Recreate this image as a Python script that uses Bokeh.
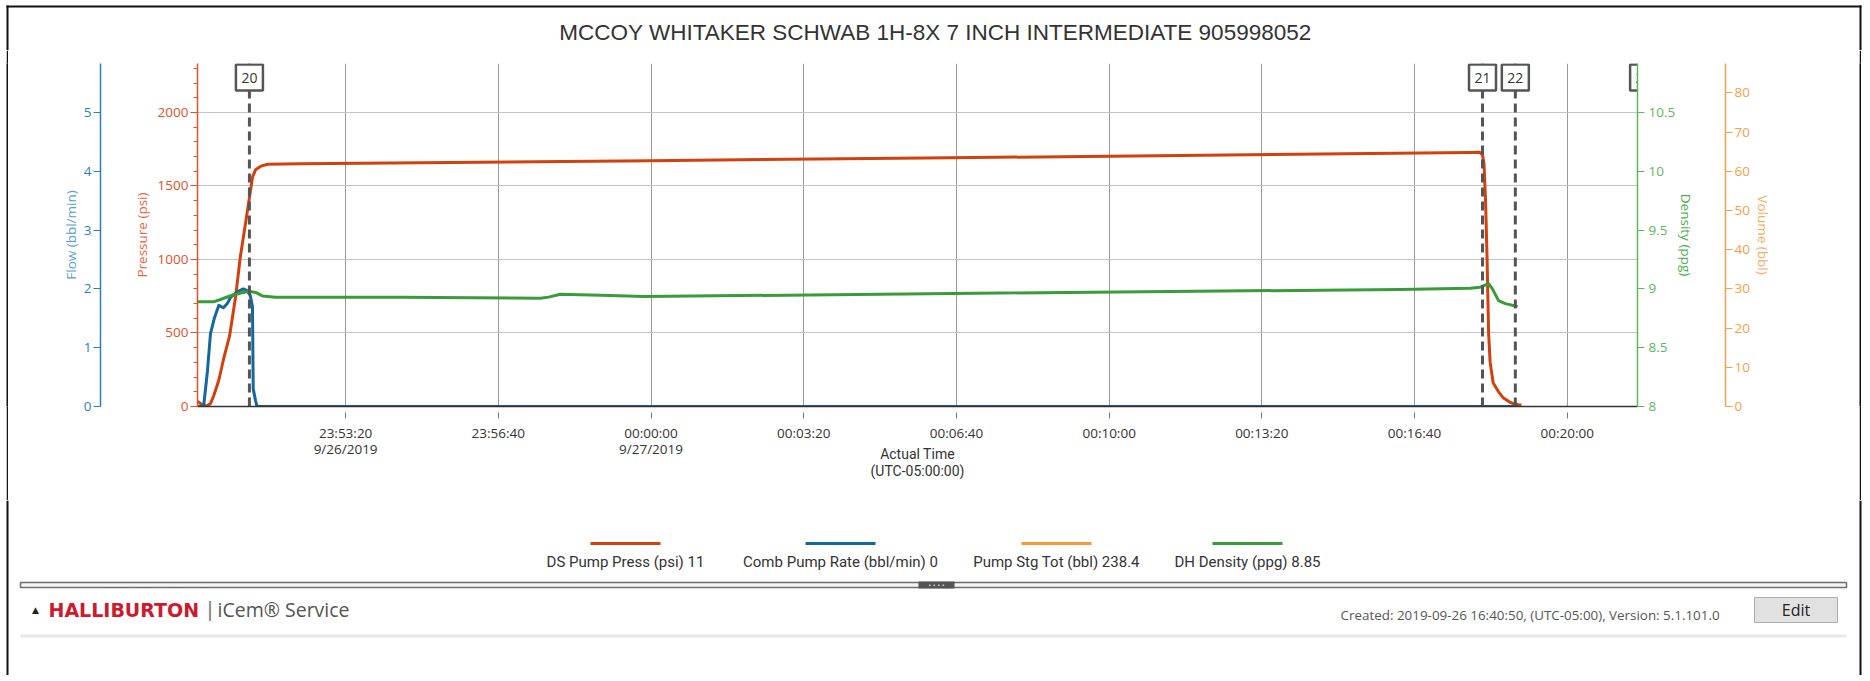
from bokeh.plotting import figure
from bokeh.layouts import column, row
from bokeh.models import (Range1d, LinearAxis, FixedTicker, SingleIntervalTicker,
                          NumeralTickFormatter, ColumnDataSource, Spacer)
from bokeh.core.properties import value
from bokeh.embed import file_html
from bokeh.resources import INLINE

# ---------------- data ----------------
TITLE = "MCCOY WHITAKER SCHWAB 1H-8X 7 INCH INTERMEDIATE 905998052"

press_time = ["23:50:06", "23:50:10", "23:50:14", "23:50:19", "23:50:23", "23:50:27", "23:50:34",
              "23:50:40", "23:50:48", "23:50:56", "23:51:02", "23:51:09", "23:51:14", "23:51:18",
              "23:51:22", "23:51:29", "23:51:38", "23:52:21", "23:59:59", "00:06:32", "00:13:05",
              "00:17:53", "00:18:05", "00:18:09", "00:18:11", "00:18:13", "00:18:15", "00:18:17",
              "00:18:19", "00:18:23", "00:18:30", "00:18:36", "00:18:43", "00:18:49", "00:18:56",
              "00:19:00"]
press_psi = [35, 20, 5, 5, 20, 70, 180, 320, 480, 750, 1014, 1250, 1420, 1560, 1610, 1635, 1648,
             1652, 1672, 1692, 1712, 1728, 1730, 1712, 1650, 1400, 1000, 500, 300, 160, 100, 60,
             35, 20, 12, 11]

flow_time = ["23:50:06", "23:50:14", "23:50:19", "23:50:23", "23:50:28", "23:50:34", "23:50:40",
             "23:50:45", "23:50:49", "23:50:58", "23:51:06", "23:51:11", "23:51:15", "23:51:18",
             "23:51:19", "23:51:22", "23:51:24", "00:18:56"]
flow_rate = [0, 0, 0.6, 1.24, 1.5, 1.72, 1.68, 1.75, 1.85, 1.95, 2.0, 1.97, 1.89, 1.70, 0.3, 0.1,
             0, 0]

dens_time = ["23:50:06", "23:50:27", "23:50:36", "23:50:53", "23:51:13", "23:51:22", "23:51:31",
             "23:51:48", "23:54:32", "23:57:35", "23:57:46", "23:58:01", "23:58:54", "23:59:51",
             "00:07:37", "00:16:21", "00:17:53", "00:18:06", "00:18:17", "00:18:22", "00:18:30",
             "00:18:39", "00:18:55"]
dens_ppg = [8.89, 8.89, 8.91, 8.95, 8.98, 8.97, 8.94, 8.93, 8.93, 8.92, 8.93, 8.955, 8.945, 8.935,
            8.965, 8.995, 9.005, 9.015, 9.045, 9.0, 8.90, 8.875, 8.85]

event_labels = ["20", "21", "22", "23"]
event_times = ["23:51:14", "00:18:09", "00:18:52", "00:21:40"]

tick_times = ["23:53:20", "23:56:40", "00:00:00", "00:03:20", "00:06:40", "00:10:00",
              "00:13:20", "00:16:40", "00:20:00"]
tick_labels = ["23:53:20\n9/26/2019", "23:56:40", "00:00:00\n9/27/2019", "00:03:20", "00:06:40",
               "00:10:00", "00:13:20", "00:16:40", "00:20:00"]

legend_names = ["DS Pump Press (psi)", "Comb Pump Rate (bbl/min)", "Pump Stg Tot (bbl)",
                "DH Density (ppg)"]
legend_values = ["11", "0", "238.4", "8.85"]

X_START, X_END = "23:50:06", "00:21:32"
P_MAX, F_MAX, D_MIN, D_MAX, V_MAX = 2333.3, 5.8333, 8.0, 10.9167, 87.5


def secs(t):
    h, m, s = map(int, t.split(":"))
    v = h * 3600 + m * 60 + s
    return v + 86400 if h < 12 else v


# ---------------- colours / layout ----------------
C_PRESS, C_PRESS_AX, C_PRESS_LAB = "#d2400e", "#e0522a", "#e8663f"
C_FLOW, C_FLOW_AX, C_FLOW_LAB = "#15679f", "#2f7fb5", "#5aa0d0"
C_DENS, C_DENS_AX, C_DENS_LAB = "#3a9b3a", "#5cb85c", "#4cae4c"
C_VOL, C_VOL_AX, C_VOL_LAB = "#f79a3a", "#f5a04a", "#f7ac60"
BORDER = "#111111"

TOTAL_W = 1862
HEAD_H = 50
MID_W = TOTAL_W - 6 - 2 - 2 - 1
CHART_H, FOOT_H = 450, 175
FL, FR, FT, FB = 189, 1629, 13, 356          # frame edges inside the chart figure
FRAME_H = FB - FT
TICK_FONT = "Open Sans"


def canvas_fig(w, h, fill="white"):
    f = figure(width=w, height=h, output_backend="svg", toolbar_location=None,
               x_range=Range1d(0, w), y_range=Range1d(h, 0), min_border=0,
               x_axis_location=None, y_axis_location=None, outline_line_color=None,
               background_fill_color=fill, border_fill_color=fill)
    f.grid.visible = False
    return f


# ---------------- header (page frame + title) ----------------
head = canvas_fig(TOTAL_W, HEAD_H)
head.quad(left=[6, 6, 1859], right=[1861, 8, 1861], top=[5, 5, 5], bottom=[7, HEAD_H, HEAD_H],
          fill_color=BORDER, line_color=None)
head.text(x=[935], y=[31.5], text=[TITLE], text_align="center", text_baseline="middle",
          text_font=value("Liberation Sans"), text_font_size="22.5px", text_color="#333333")

bar_left = canvas_fig(2, CHART_H, fill=BORDER)
bar_right = canvas_fig(2, CHART_H, fill=BORDER)

# ---------------- chart ----------------
p = figure(width=MID_W, height=CHART_H, output_backend="svg", toolbar_location=None,
           x_range=Range1d(secs(X_START), secs(X_END)), y_range=Range1d(0, P_MAX),
           min_border_left=FL, min_border_right=MID_W - FR, min_border_top=FT,
           min_border_bottom=CHART_H - FB, background_fill_color="white",
           border_fill_color="white", outline_line_color=None)

p.extra_y_ranges = {"flow": Range1d(0, F_MAX), "density": Range1d(D_MIN, D_MAX),
                    "volume": Range1d(0, V_MAX)}

xa = p.xaxis[0]
xa.ticker = FixedTicker(ticks=[secs(t) for t in tick_times], minor_ticks=[])
xa.major_label_overrides = {float(secs(t)): lab for t, lab in zip(tick_times, tick_labels)}
xa.axis_line_color = "#333333"
xa.axis_line_width = 1.5
xa.major_tick_line_color = "#777777"
xa.major_tick_in = -6
xa.major_tick_out = 12
xa.minor_tick_line_color = None
xa.major_label_standoff = 5
xa.major_label_text_font = TICK_FONT
xa.major_label_text_font_size = "13.5px"
xa.major_label_text_line_height = 0.93
xa.major_label_text_color = "#333333"
xa.axis_label = "Actual Time\n(UTC-05:00:00)"
xa.axis_label_text_font = "Roboto"
xa.axis_label_text_font_size = "14px"
xa.axis_label_text_line_height = 1.04
xa.axis_label_text_font_style = "normal"
xa.axis_label_text_color = "#333333"
xa.axis_label_standoff = -15


def style_axis(ax, color, lab_color, label_standoff, minor=False):
    ax.axis_line_color = color
    ax.axis_line_width = 1.5
    ax.major_tick_line_color = color
    ax.major_tick_in = 0
    ax.major_tick_out = 7
    if minor:
        ax.minor_tick_line_color = color
        ax.minor_tick_in = 0
        ax.minor_tick_out = 4
    else:
        ax.minor_tick_line_color = None
    ax.major_label_standoff = 2
    ax.major_label_text_font = TICK_FONT
    ax.major_label_text_font_size = "13.5px"
    ax.major_label_text_color = color
    ax.axis_label_text_font = TICK_FONT
    ax.axis_label_text_font_size = "13.5px"
    ax.axis_label_text_font_style = "normal"
    ax.axis_label_text_color = lab_color
    ax.axis_label_standoff = label_standoff


def gap_axis(range_name, tick_value, gap):
    # blank axis that only leaves the white gap seen between the stacked left axes
    ax = LinearAxis(y_range_name=range_name, ticker=FixedTicker(ticks=[tick_value]),
                    axis_label=None)
    ax.axis_line_color = None
    ax.major_tick_line_color = "white"
    ax.minor_tick_line_color = None
    ax.major_tick_in = 0
    ax.major_tick_out = gap
    ax.major_label_standoff = 0
    ax.major_label_text_color = None
    ax.major_label_text_font_size = "1px"
    return ax


pa = p.yaxis[0]
pa.ticker = SingleIntervalTicker(interval=500, num_minor_ticks=5)
pa.axis_label = "Pressure (psi)"
style_axis(pa, C_PRESS_AX, C_PRESS_LAB, 4, minor=True)

p.add_layout(gap_axis("flow", 5.5, 29), "left")

flow_ax = LinearAxis(y_range_name="flow", ticker=SingleIntervalTicker(interval=1, num_minor_ticks=0),
                     axis_label="Flow (bbl/min)")
style_axis(flow_ax, C_FLOW_AX, C_FLOW_LAB, 1)
p.add_layout(flow_ax, "left")

# the leading blank line widens the density panel to leave the gap before the volume axis
dens_ax = LinearAxis(y_range_name="density",
                     ticker=SingleIntervalTicker(interval=0.5, num_minor_ticks=0),
                     formatter=NumeralTickFormatter(format="0.[0]"),
                     axis_label="\nDensity (ppg)")
style_axis(dens_ax, C_DENS_AX, C_DENS_LAB, -1)
dens_ax.axis_label_text_line_height = 1.52
dens_ax.major_label_standoff = 4
p.add_layout(dens_ax, "right")

vol_ax = LinearAxis(y_range_name="volume", ticker=SingleIntervalTicker(interval=10, num_minor_ticks=0),
                    axis_label="Volume (bbl)")
style_axis(vol_ax, C_VOL_AX, C_VOL_LAB, 1)
p.add_layout(vol_ax, "right")

p.xgrid.grid_line_color = "#9a9a9a"
p.xgrid.grid_line_width = 1
p.ygrid.grid_line_color = "#c4c4c4"
p.ygrid.grid_line_width = 1

p.line([secs(t) for t in press_time], press_psi, line_color=C_PRESS, line_width=3,
       line_join="round")
p.line([secs(t) for t in flow_time], flow_rate, line_color=C_FLOW, line_width=3,
       line_join="round", y_range_name="flow")
p.line([secs(t) for t in dens_time], dens_ppg, line_color=C_DENS, line_width=3,
       line_join="round", y_range_name="density")

ev = ColumnDataSource(dict(x=[secs(t) for t in event_times],
                           y0=[0] * len(event_times),
                           y1=[P_MAX] * len(event_times),
                           yb=[P_MAX * (1 - 14 / FRAME_H)] * len(event_times),
                           label=event_labels))
p.segment(x0="x", y0="y0", x1="x", y1="y1", source=ev, line_color="#555555", line_width=3,
          line_dash="9 5")
p.rect(x="x", y="yb", width=27, height=26, width_units="screen", height_units="screen",
       fill_color="white", line_color="#555555", line_width=2.5, source=ev)
p.text(x="x", y="yb", text="label", source=ev, text_align="center", text_baseline="middle",
       text_font=value("Open Sans"), text_font_size="14px", text_color="#333333")

# ---------------- legend + footer (full page width) ----------------
foot = canvas_fig(TOTAL_W, FOOT_H)
foot.quad(left=[6, 1859], right=[8, 1861], top=[0, 0], bottom=[FOOT_H, FOOT_H],
          fill_color=BORDER, line_color=None)
leg_cx = [625, 840, 1056, 1247]
leg_colors = [C_PRESS, C_FLOW, C_VOL, C_DENS]
foot.quad(left=[c - 35 for c in leg_cx], right=[c + 35 for c in leg_cx], top=[41.5] * 4,
          bottom=[44.5] * 4, fill_color=leg_colors, line_color=None)
foot.text(x=leg_cx, y=[61] * 4, text=[f"{n} {v}" for n, v in zip(legend_names, legend_values)],
          text_align="center", text_baseline="middle", text_font=value("Roboto"),
          text_font_size="15px", text_color="#333333")

# splitter bar
foot.quad(left=[20], right=[1846], top=[82], bottom=[87], fill_color="#f4f4f4",
          line_color="#6e6e6e", line_width=1.5)
foot.quad(left=[918], right=[954], top=[81], bottom=[88], fill_color="#555555", line_color=None)
foot.text(x=[936], y=[84.5], text=["• • • •"], text_align="center", text_baseline="middle",
          text_font=value("DejaVu Sans"), text_font_size="5px", text_color="white")

# footer line
foot.text(x=[35], y=[109], text=["▲"], text_align="center", text_baseline="middle",
          text_font=value("DejaVu Sans"), text_font_size="9px", text_color="#222222")
foot.text(x=[48], y=[109], text=["HALLIBURTON"], text_align="left", text_baseline="middle",
          text_font=value("DejaVu Sans"), text_font_size="19px", text_font_style="bold",
          text_color="#cc1a2e")
foot.text(x=[204], y=[108], text=["|"], text_align="left", text_baseline="middle",
          text_font=value("Open Sans"), text_font_size="20px", text_color="#666666")
foot.text(x=[217], y=[109], text=["iCem® Service"], text_align="left", text_baseline="middle",
          text_font=value("Open Sans"), text_font_size="19.5px", text_color="#555555")
foot.quad(left=[20], right=[1846], top=[134], bottom=[137], fill_color="#e8e8e8", line_color=None)
foot.text(x=[1733], y=[114],
          text=["Created: 2019-09-26  16:40:50, (UTC-05:00),    Version: 5.1.101.0"],
          text_align="right", text_baseline="middle", text_font=value("Open Sans"),
          text_font_size="13.4px", text_color="#555555")
foot.quad(left=[1754], right=[1837], top=[97], bottom=[122], fill_color="#e1e1e1",
          line_color="#adadad", line_width=1)
foot.text(x=[1795.5], y=[109.5], text=["Edit"], text_align="center", text_baseline="middle",
          text_font=value("Open Sans"), text_font_size="16px", text_color="#222222")

chart_row = row(Spacer(width=6, height=CHART_H), bar_left, p, bar_right,
                Spacer(width=1, height=CHART_H), spacing=0)
layout = column(head, chart_row, foot, spacing=0)

open("out.html", "w").write(file_html(layout, INLINE))
